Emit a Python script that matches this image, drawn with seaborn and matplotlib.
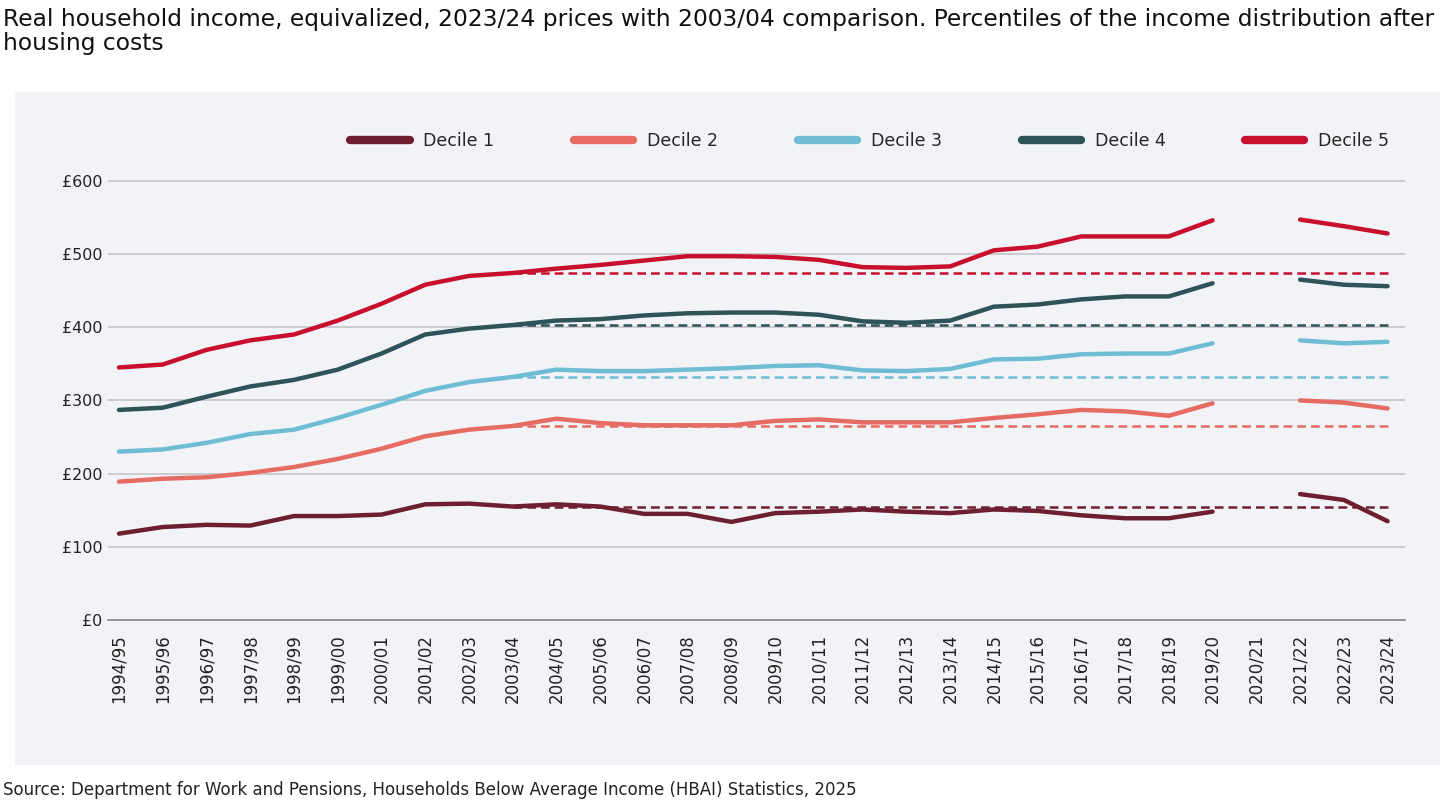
import numpy as np
import pandas as pd
import matplotlib
matplotlib.use('Agg')
import matplotlib.pyplot as plt
import seaborn as sns
from matplotlib.lines import Line2D
from matplotlib.patches import Rectangle

years = ['1994/95', '1995/96', '1996/97', '1997/98', '1998/99', '1999/00',
         '2000/01', '2001/02', '2002/03', '2003/04', '2004/05', '2005/06',
         '2006/07', '2007/08', '2008/09', '2009/10', '2010/11', '2011/12',
         '2012/13', '2013/14', '2014/15', '2015/16', '2016/17', '2017/18',
         '2018/19', '2019/20', '2020/21', '2021/22', '2022/23', '2023/24']

nan = np.nan
decile_1 = [118, 127, 130, 129, 142, 142, 144, 158, 159, 155, 158, 155, 145, 145, 134,
            146, 148, 151, 148, 146, 151, 149, 143, 139, 139, 148, nan, 172, 164, 135]
decile_2 = [189, 193, 195, 201, 209, 220, 234, 251, 260, 265, 275, 269, 266, 266, 266,
            272, 274, 270, 270, 270, 276, 281, 287, 285, 279, 296, nan, 300, 297, 289]
decile_3 = [230, 233, 242, 254, 260, 276, 294, 313, 325, 332, 342, 340, 340, 342, 344,
            347, 348, 341, 340, 343, 356, 357, 363, 364, 364, 378, nan, 382, 378, 380]
decile_4 = [287, 290, 305, 319, 328, 342, 364, 390, 398, 403, 409, 411, 416, 419, 420,
            420, 417, 408, 406, 409, 428, 431, 438, 442, 442, 460, nan, 465, 458, 456]
decile_5 = [345, 349, 369, 382, 390, 409, 432, 458, 470, 474, 480, 485, 491, 497, 497,
            496, 492, 482, 481, 483, 505, 510, 524, 524, 524, 546, nan, 547, 538, 528]

deciles = ['Decile 1', 'Decile 2', 'Decile 3', 'Decile 4', 'Decile 5']
colours = ['#6d1f2f', '#e56b63', '#6fbdd4', '#2e5359', '#c8102e']
base_year = '2003/04'

title = ('Real household income, equivalized, 2023/24 prices with 2003/04 comparison. '
         'Percentiles of the income distribution after\nhousing costs')
source = ('Source: Department for Work and Pensions, Households Below Average Income '
          '(HBAI) Statistics, 2025')


def main():
    rows = []
    for name, vals in zip(deciles, [decile_1, decile_2, decile_3, decile_4, decile_5]):
        seg = 0
        for i, (yr, v) in enumerate(zip(years, vals)):
            if np.isnan(v):
                seg += 1
                continue
            rows.append(dict(decile=name, pos=i, year=yr, income=v, segment=seg))
    df = pd.DataFrame(rows)

    # flat comparison line at the 2003/04 level, carried to the last year
    b = years.index(base_year)
    ref_rows = []
    for name, v in df.loc[df['year'] == base_year, ['decile', 'income']].values:
        for i in range(b, len(years)):
            ref_rows.append(dict(decile=name, pos=i, income=v))
    ref = pd.DataFrame(ref_rows)

    sns.set_style('white')
    plt.rcParams['font.family'] = ['DejaVu Sans']

    fig = plt.figure(figsize=(14.56, 8.11), dpi=100)
    fig.patches.append(Rectangle((0.0103, 0.0567), 0.979, 0.83, transform=fig.transFigure,
                                 facecolor='#f2f3f7', edgecolor='none', zorder=-5))
    ax = fig.add_axes([0.0742, 0.2355, 0.8908, 0.5425])
    ax.set_facecolor('none')
    ax.set_zorder(2)

    pal = dict(zip(deciles, colours))
    sns.lineplot(data=df, x='pos', y='income', hue='decile', units='segment',
                 estimator=None, palette=pal, lw=3.2, ax=ax, legend=False,
                 solid_capstyle='round')
    n_solid = len(ax.lines)
    sns.lineplot(data=ref, x='pos', y='income', hue='decile', palette=pal,
                 lw=1.8, ax=ax, legend=False)
    for line in ax.lines[n_solid:]:
        line.set_dashes([3.5, 2.0])

    ax.set_xlim(-0.25, len(years) - 1 + 0.4)
    ax.set_ylim(0, 601)
    ax.set_xticks(range(len(years)))
    ax.set_xticklabels(years, rotation=90, fontsize=12, color='#222222')
    ax.set_yticks(range(0, 601, 100))
    ax.set_yticklabels([f'£{v}' for v in range(0, 601, 100)], fontsize=11.5, color='#222222')
    ax.set_xlabel('')
    ax.set_ylabel('')
    ax.yaxis.grid(True, color='#c4c5c9', lw=1.2)
    ax.xaxis.grid(False)
    ax.set_axisbelow(True)
    for s in ['top', 'right', 'left']:
        ax.spines[s].set_visible(False)
    ax.spines['bottom'].set_color('#8a8a8a')
    ax.spines['bottom'].set_linewidth(1.2)
    ax.tick_params(axis='y', length=0, pad=4)
    ax.tick_params(axis='x', length=6, width=1, color='#8a8a8a', direction='out', pad=4)

    handles = [Line2D([0], [0], color=c, lw=6, solid_capstyle='round') for c in colours]
    fig.legend(handles, deciles, loc='center right', bbox_to_anchor=(1405 / 1456, 1 - 141 / 811),
               ncol=5, frameon=False, fontsize=12.5, handlelength=3.4, handletextpad=0.8,
               columnspacing=4.6)

    fig.text(0.002, 0.99, title, va='top', ha='left', fontsize=16.8, linespacing=1.05,
             color='#111111')
    fig.text(0.002, 1 - 790 / 811, source, va='center', ha='left', fontsize=12,
             color='#222222')

    fig.savefig('out.png', dpi=100, facecolor='white')


if __name__ == '__main__':
    main()
